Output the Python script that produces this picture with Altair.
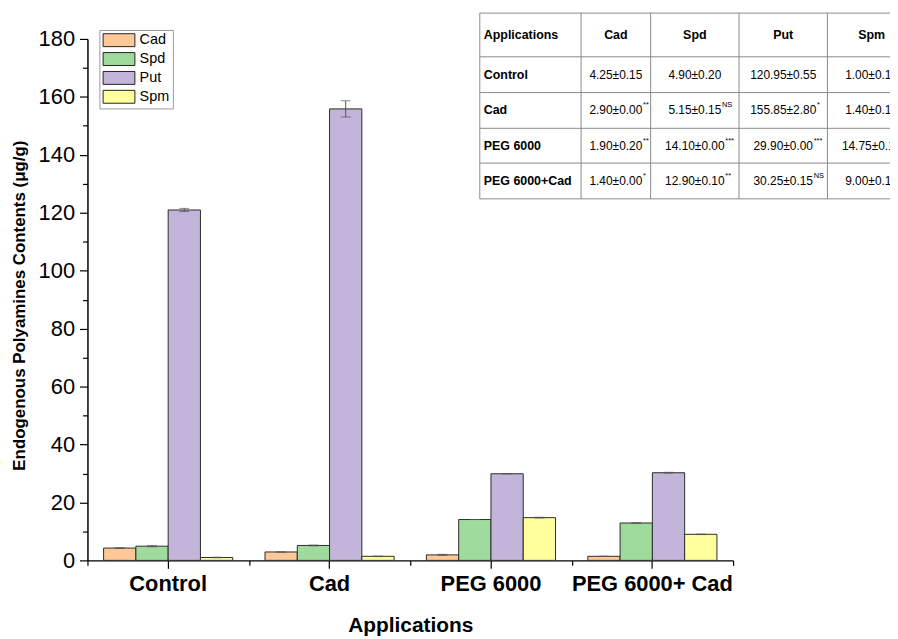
import altair as alt
import pandas as pd

# ---------------- data ----------------
apps = ["Control", "Cad", "PEG 6000", "PEG 6000+ Cad"]
compounds = ["Cad", "Spd", "Put", "Spm"]
cad_mean = [4.25, 2.90, 1.90, 1.40]
cad_err = [0.15, 0.00, 0.20, 0.00]
spd_mean = [4.90, 5.15, 14.10, 12.90]
spd_err = [0.20, 0.15, 0.00, 0.10]
put_mean = [120.95, 155.85, 29.90, 30.25]
put_err = [0.55, 2.80, 0.00, 0.15]
spm_mean = [1.00, 1.40, 14.75, 9.00]
spm_err = [0.10, 0.10, 0.15, 0.10]
cad_sig = ["", "**", "**", "*"]
spd_sig = ["", "NS", "***", "**"]
put_sig = ["", "*", "***", "NS"]
spm_sig = ["", "", "", "*"]
table_header = ["Applications", "Cad", "Spd", "Put", "Spm"]
table_rows = ["Control", "Cad", "PEG 6000", "PEG 6000+Cad"]
y_ticks = [0, 20, 40, 60, 80, 100, 120, 140, 160, 180]
y_minor = [10, 30, 50, 70, 90, 110, 130, 150, 170]
colors = ["#FFC896", "#A0DB9E", "#C3B4D9", "#FFFF9E"]

# ---------------- layout (pixels) ----------------
PAD = {"left": 80, "top": 2, "right": 0, "bottom": 75}
VIEW_W, VIEW_H = 808, 552
X_RANGE = [0, 650]
Y_RANGE = [552, 27]
TABLE_COL_EDGES = [395, 497, 567, 656, 745, 834]
TABLE_ROW_EDGES = [1, 45, 81, 117, 152, 188]
FONT = "Liberation Sans"
TFS = 12
TFS_B = 12.5

means = [cad_mean, spd_mean, put_mean, spm_mean]
errs = [cad_err, spd_err, put_err, spm_err]
sigs = [cad_sig, spd_sig, put_sig, spm_sig]

rows = []
for ci, comp in enumerate(compounds):
    for ai, app in enumerate(apps):
        m, e = means[ci][ai], errs[ci][ai]
        rows.append({"app": app, "compound": comp, "value": m,
                     "lo": m - e, "hi": m + e})
df = pd.DataFrame(rows)

xscale = alt.Scale(domain=apps, range=X_RANGE, paddingInner=0, paddingOuter=0)
xoff_scale = alt.Scale(domain=compounds, paddingInner=0, paddingOuter=0.5)
yscale = alt.Scale(domain=[0, 180], range=Y_RANGE, nice=False, zero=True)

# wide rectangle legend symbol: 13px tall, 32px wide, starting at the symbol's left edge
sym_path = "M-1,-1L3.923,-1L3.923,1L-1,1Z"

bars = alt.Chart(df).mark_bar(stroke="#2b2b2b", strokeWidth=1).encode(
    x=alt.X("app:N", sort=apps, scale=xscale,
            axis=alt.Axis(title="Applications", titleFont=FONT, titleFontSize=21,
                          titleFontWeight="bold", titleColor="black",
                          titleX=325, titleY=66, titleBaseline="middle", titleAlign="center",
                          labelFont=FONT, labelFontSize=22, labelFontWeight="bold",
                          labelColor="black", labelAngle=0, labelPadding=5,
                          tickSize=8, tickColor="black", tickWidth=1.2,
                          domainColor="black", domainWidth=1.5, grid=False,
                          orient="bottom")),
    xOffset=alt.XOffset("compound:N", sort=compounds, scale=xoff_scale),
    y=alt.Y("value:Q", scale=yscale,
            axis=alt.Axis(values=y_ticks, title="Endogenous Polyamines Contents (μg/g)",
                          titleFont=FONT, titleFontSize=17, titleFontWeight="bold",
                          titleColor="black", titleX=-68, titleY=295, titleAngle=-90,
                          titleAlign="center", titleBaseline="middle",
                          labelFont=FONT, labelFontSize=22, labelColor="black",
                          labelPadding=5, tickSize=8, tickColor="black", tickWidth=1.2,
                          domainColor="black", domainWidth=1.5, grid=False,
                          orient="left")),
    fill=alt.Fill("compound:N", sort=compounds,
                  scale=alt.Scale(domain=compounds, range=colors),
                  legend=alt.Legend(title=None, orient="none", legendX=12, legendY=18,
                                    symbolType=sym_path, symbolSize=169,
                                    symbolStrokeColor="#222", symbolStrokeWidth=1,
                                    symbolOpacity=1,
                                    labelFont=FONT, labelFontSize=14.5, labelColor="black",
                                    labelOffset=23, rowPadding=1, padding=3,
                                    strokeColor="#999", fillColor="white")),
)

err_rule = alt.Chart(df).mark_rule(color="#555", strokeWidth=1).encode(
    x=alt.X("app:N", sort=apps, scale=xscale,
            axis=alt.Axis(tickBand="extent", labels=False, domain=False, title=None,
                          tickSize=5, tickColor="black", tickWidth=1.2, grid=False,
                          orient="bottom")),
    xOffset=alt.XOffset("compound:N", sort=compounds, scale=xoff_scale),
    y=alt.Y("lo:Q", scale=yscale,
            axis=alt.Axis(values=y_minor, labels=False, domain=False, title=None,
                          tickSize=5, tickColor="black", tickWidth=1.2, grid=False,
                          orient="left")),
    y2="hi:Q",
)

def cap(field):
    return alt.Chart(df).mark_tick(color="#555", thickness=1, size=10).encode(
        x=alt.X("app:N", sort=apps, scale=xscale, axis=None),
        xOffset=alt.XOffset("compound:N", sort=compounds, scale=xoff_scale),
        y=alt.Y(f"{field}:Q", scale=yscale, axis=None),
    )

main = alt.layer(bars, err_rule, cap("hi"), cap("lo")).resolve_axis(
    x="independent", y="independent")

# ---------------- table ----------------
tx = alt.Scale(domain=[0, 1, 2, 3, 4, 5], range=TABLE_COL_EDGES, nice=False, zero=False)
ty = alt.Scale(domain=[0, 1, 2, 3, 4, 5], range=TABLE_ROW_EDGES, nice=False, zero=False)

char_w = {".": 0.278, "±": 0.584}
def text_w(s):
    return sum(char_w.get(ch, 0.556) for ch in s) * TFS

col_w = [TABLE_COL_EDGES[i + 1] - TABLE_COL_EDGES[i] for i in range(5)]

left_cells, head_cells, val_cells, sup_cells = [], [], [], []
left_cells.append({"x": 4 / col_w[0], "y": 0.5, "t": table_header[0]})
for c in range(1, 5):
    head_cells.append({"x": c + 0.5, "y": 0.5, "t": table_header[c]})
for r, name in enumerate(table_rows):
    left_cells.append({"x": 4 / col_w[0], "y": r + 1.5, "t": name})
    for ci in range(4):
        s = f"{means[ci][r]:.2f}±{errs[ci][r]:.2f}"
        c = ci + 1
        val_cells.append({"x": c + 0.5, "y": r + 1.5, "t": s})
        if sigs[ci][r]:
            sup_cells.append({"x": c + 0.5 + (text_w(s) / 2 + 0.5) / col_w[c],
                              "y": r + 1.5, "t": sigs[ci][r]})

def tlayer(cells, **kw):
    return alt.Chart(pd.DataFrame(cells)).mark_text(clip=True, font=FONT, color="black", **kw).encode(
        x=alt.X("x:Q", scale=tx, axis=None),
        y=alt.Y("y:Q", scale=ty, axis=None),
        text="t:N",
    )

hl = pd.DataFrame({"y": list(range(6)), "x": [0] * 6, "x2": [5] * 6})
vl = pd.DataFrame({"x": list(range(6)), "y": [0] * 6, "y2": [5] * 6})
hlines = alt.Chart(hl).mark_rule(color="#8a8a8a", strokeWidth=1, clip=True).encode(
    x=alt.X("x:Q", scale=tx, axis=None), x2="x2:Q",
    y=alt.Y("y:Q", scale=ty, axis=None))
vlines = alt.Chart(vl).mark_rule(color="#8a8a8a", strokeWidth=1, clip=True).encode(
    x=alt.X("x:Q", scale=tx, axis=None),
    y=alt.Y("y:Q", scale=ty, axis=None), y2="y2:Q")

table = alt.layer(
    hlines, vlines,
    tlayer(left_cells, align="left", baseline="middle", fontSize=TFS_B, fontWeight="bold"),
    tlayer(head_cells, align="center", baseline="middle", fontSize=TFS_B, fontWeight="bold"),
    tlayer(val_cells, align="center", baseline="middle", fontSize=TFS),
    tlayer(sup_cells, align="left", baseline="middle", fontSize=7.5, dy=-5),
)

chart = alt.layer(main, table).resolve_scale(x="independent", y="independent").properties(
    width=VIEW_W, height=VIEW_H, padding=PAD,
    autosize=alt.AutoSizeParams(type="none"),
).configure(font=FONT).configure_view(stroke=None, strokeWidth=0)

chart.save("out.html", embed_options={"renderer": "svg", "actions": False})
